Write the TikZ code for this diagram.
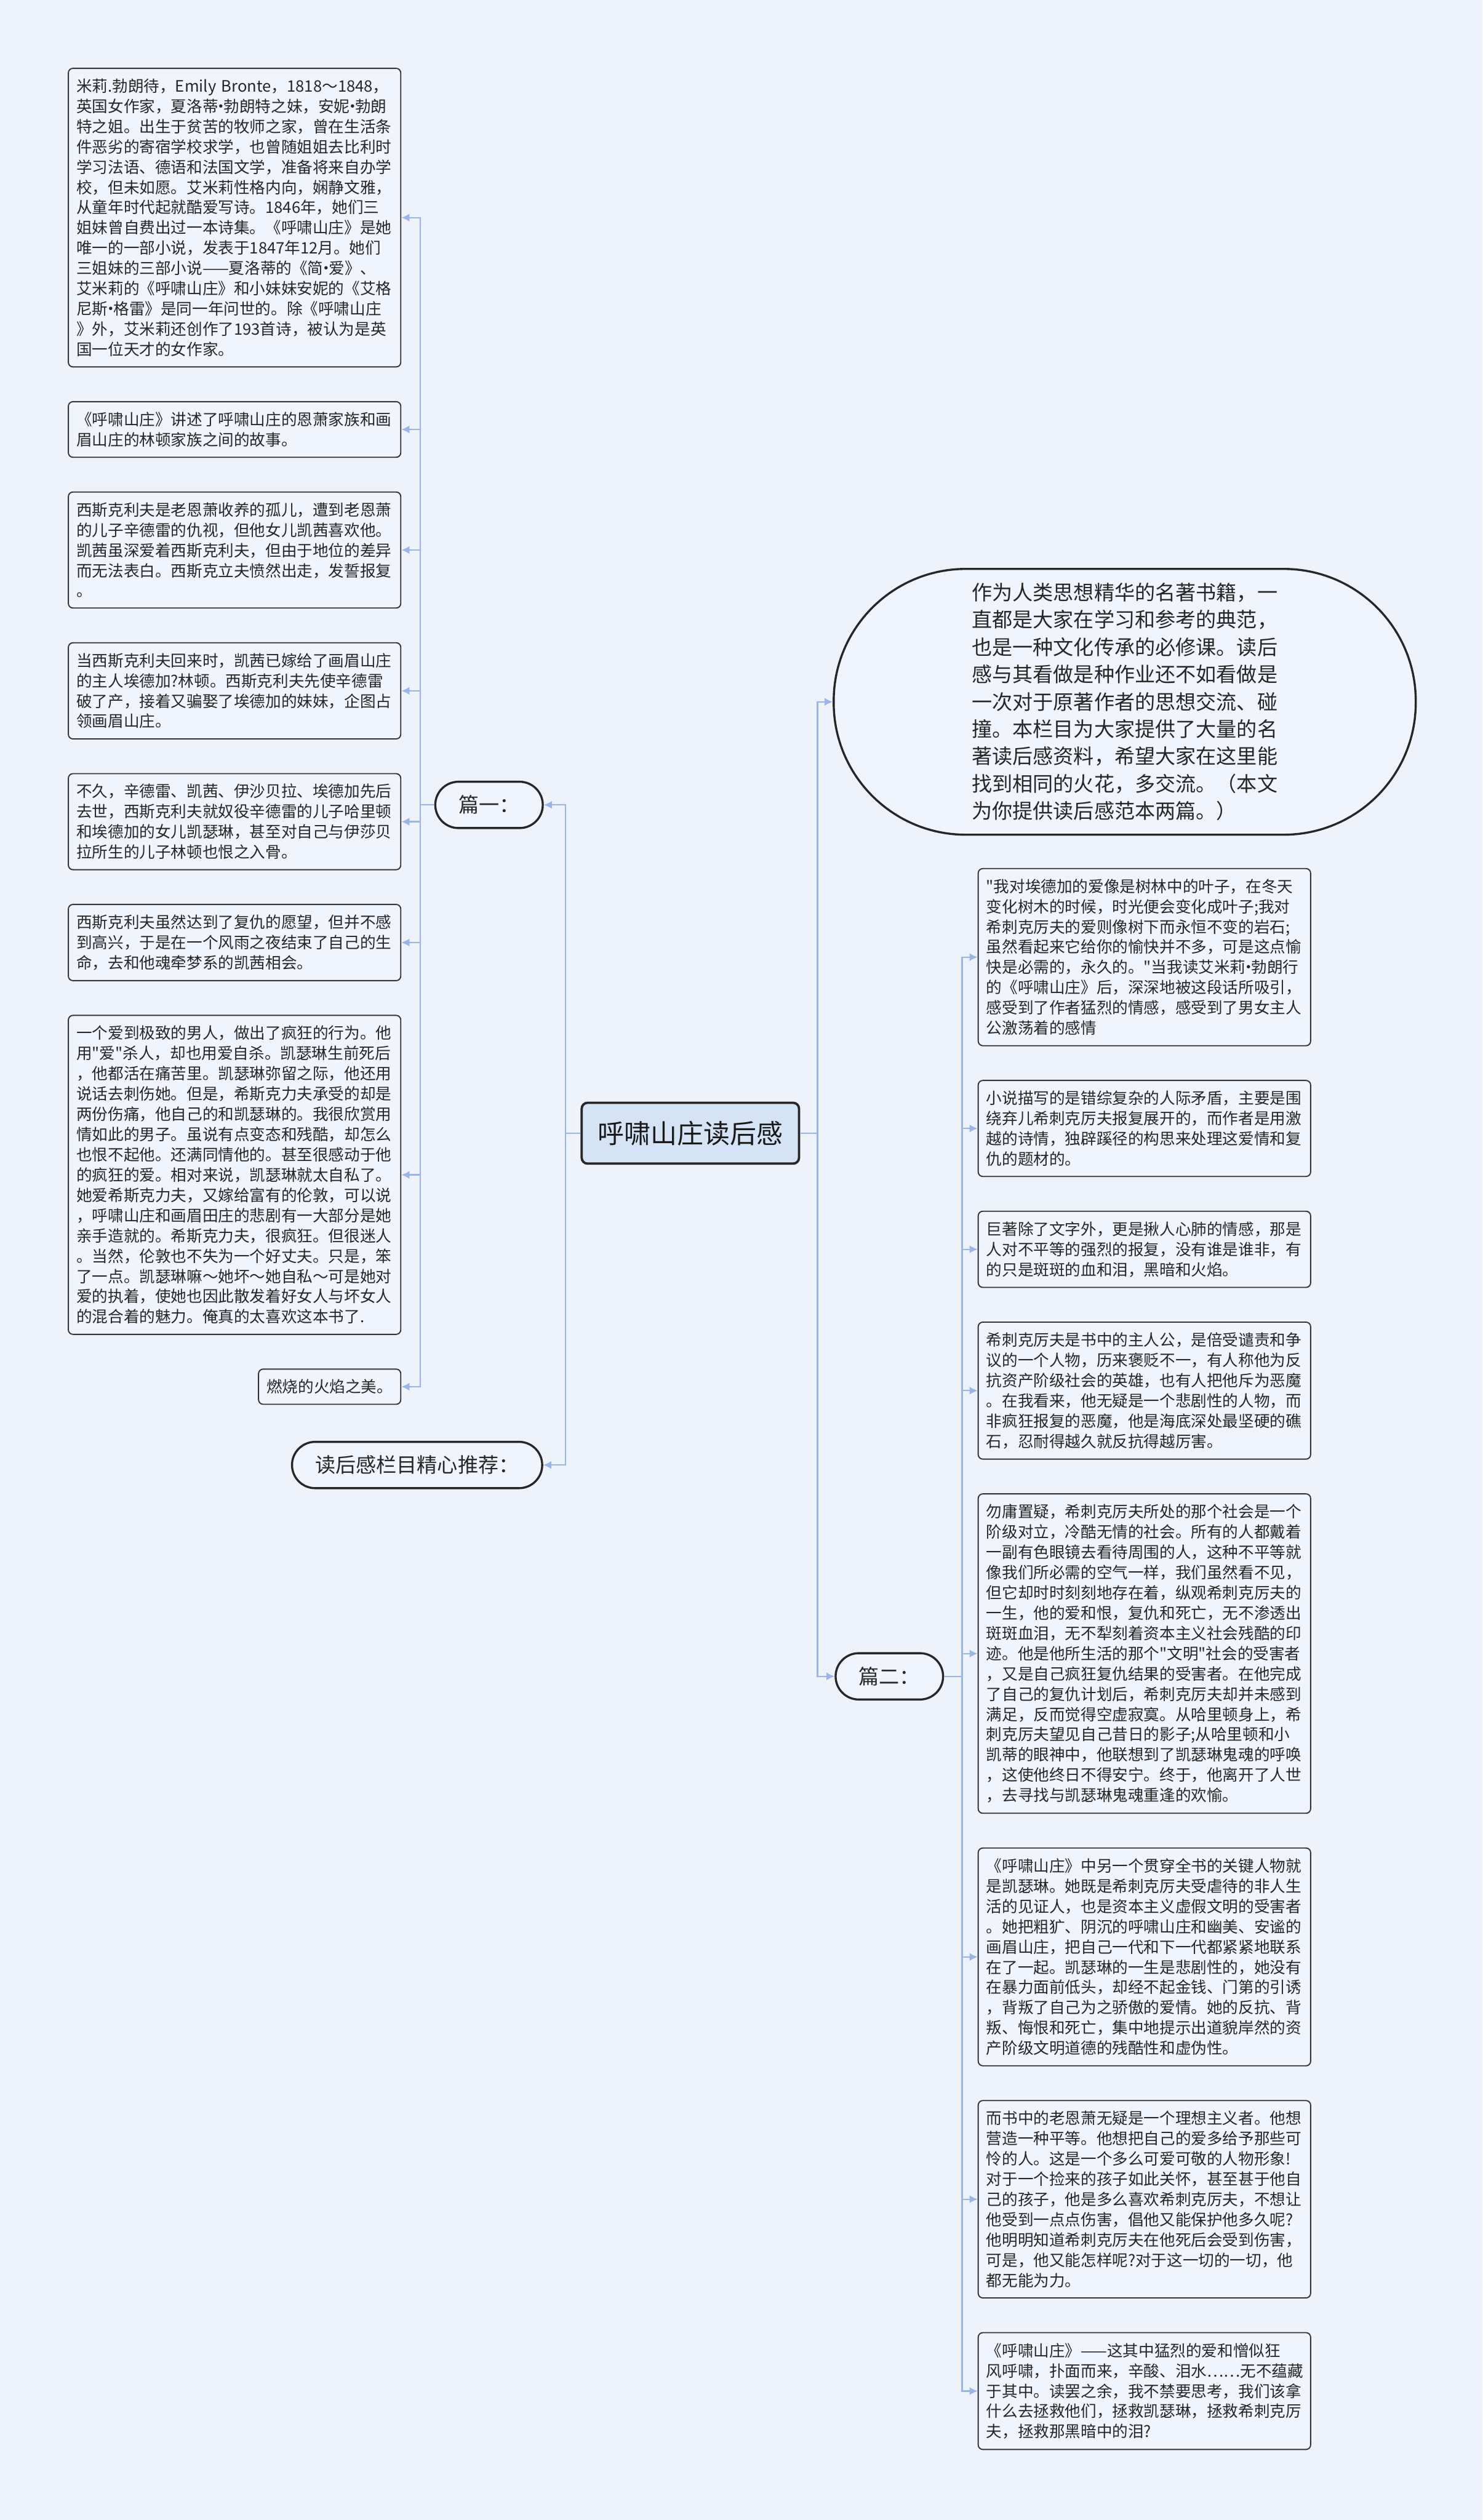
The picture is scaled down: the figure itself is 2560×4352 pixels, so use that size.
\documentclass[tikz,border=0pt]{standalone}
\usepackage{fontspec}
\setmainfont{Noto Sans CJK SC}
\newfontfamily\cjkfont{Noto Sans CJK SC}
\usepackage{xcolor}
\usepackage{tikz}
\usetikzlibrary{positioning, arrows.meta}
\definecolor{bgcol}{HTML}{EEF2FB}
\definecolor{boxfill}{HTML}{F0F4FC}
\definecolor{rootfill}{HTML}{D5E3F7}
\definecolor{linecol}{HTML}{98B6EC}
\definecolor{textcol}{HTML}{262626}
\newlength{\LeafWidth}
\setlength\LeafWidth{136.5pt}
\newcommand{\leaffont}{\cjkfont\fontsize{6.8pt}{8.75pt}\selectfont}
\newcommand{\topicfont}{\cjkfont\fontsize{8.8pt}{10pt}\selectfont}
\newcommand{\introfont}{\cjkfont\fontsize{8.8pt}{11.8pt}\selectfont}
\newcommand{\mainfont}{\cjkfont\fontsize{11.4pt}{13pt}\selectfont}
\newcommand{\mdot}{\makebox[0.35em][c]{·}}

\begin{document}
\begin{tikzpicture}[
    x = 0.25pt, y = -0.25pt,
    note/.style = {rectangle, draw = black!80, fill = boxfill, rounded corners = 2pt, line width = 0.5pt, inner xsep = 3.5pt, inner ysep = 4.45pt, font = \leaffont, text = textcol, align = left},
    leaf/.style = {note, text width = \LeafWidth},
    topic/.style = {rectangle, draw = black!85, fill = boxfill, rounded corners = 10pt, line width = 0.9pt, inner xsep = 10pt, minimum height = 20pt, font = \topicfont, text = textcol},
    root/.style = {rectangle, draw = black!85, fill = rootfill, rounded corners = 2.5pt, line width = 1pt, inner xsep = 7pt, minimum height = 26.25pt, font = \mainfont, text = black!90},
    intro/.style = {rectangle, draw = black!85, fill = boxfill, rounded corners = 57pt, line width = 0.9pt, minimum width = 251.25pt, minimum height = 114.75pt, text width = 132pt, align = left, font = \introfont, text = textcol},
    trunk/.style = {draw = linecol, line width = 0.6pt},
    % connector ending in a small tip
    link/.style = {trunk, -{Latex[length = 3.5pt, width = 3.5pt]}},
    ]

    \fill [bgcol] (0,0) rectangle (2560,4352);
    \useasboundingbox (0,0) rectangle (2560,4352);

    \node [root] (root) at (1192,1957) {呼啸山庄读后感};
    \node [topic, anchor = east] (p1) at (939,1390) {篇一：};
    \node [topic, anchor = east] (rec) at (938,2530) {读后感栏目精心推荐：};
    \node [topic, anchor = west] (p2) at (1441,2895) {篇二：};
    \node [intro] (intro) at (1942,1212) {作为人类思想精华的名著书籍，一\\直都是大家在学习和参考的典范，\\也是一种文化传承的必修课。读后\\感与其看做是种作业还不如看做是\\一次对于原著作者的思想交流、碰\\撞。本栏目为大家提供了大量的名\\著读后感资料，希望大家在这里能\\找到相同的火花，多交流。（本文\\为你提供读后感范本两篇。）};

    % left branch
    \node [leaf, anchor = north west] (a1) at (117,117) {米莉.勃朗待，\mbox{Emily Bronte}，1818～1848，\\英国女作家，夏洛蒂\mdot 勃朗特之妹，安妮\mdot 勃朗\\特之姐。出生于贫苦的牧师之家，曾在生活条\\件恶劣的寄宿学校求学，也曾随姐姐去比利时\\学习法语、德语和法国文学，准备将来自办学\\校，但未如愿。艾米莉性格内向，娴静文雅，\\从童年时代起就酷爱写诗。1846年，她们三\\姐妹曾自费出过一本诗集。《呼啸山庄》是她\\唯一的一部小说，发表于1847年12月。她们\\三姐妹的三部小说——夏洛蒂的《简\mdot 爱》、\\艾米莉的《呼啸山庄》和小妹妹安妮的《艾格\\尼斯\mdot 格雷》是同一年问世的。除《呼啸山庄\\》外，艾米莉还创作了193首诗，被认为是英\\国一位天才的女作家。};
    \node [leaf] (a2) [below = 14.5pt of a1] {《呼啸山庄》讲述了呼啸山庄的恩萧家族和画\\眉山庄的林顿家族之间的故事。};
    \node [leaf] (a3) [below = 14.5pt of a2] {西斯克利夫是老恩萧收养的孤儿，遭到老恩萧\\的儿子辛德雷的仇视，但他女儿凯茜喜欢他。\\凯茜虽深爱着西斯克利夫，但由于地位的差异\\而无法表白。西斯克立夫愤然出走，发誓报复\\。};
    \node [leaf] (a4) [below = 14.5pt of a3] {当西斯克利夫回来时，凯茜已嫁给了画眉山庄\\的主人埃德加?林顿。西斯克利夫先使辛德雷\\破了产，接着又骗娶了埃德加的妹妹，企图占\\领画眉山庄。};
    \node [leaf] (a5) [below = 14.5pt of a4] {不久，辛德雷、凯茜、伊沙贝拉、埃德加先后\\去世，西斯克利夫就奴役辛德雷的儿子哈里顿\\和埃德加的女儿凯瑟琳，甚至对自己与伊莎贝\\拉所生的儿子林顿也恨之入骨。};
    \node [leaf] (a6) [below = 14.5pt of a5] {西斯克利夫虽然达到了复仇的愿望，但并不感\\到高兴，于是在一个风雨之夜结束了自己的生\\命，去和他魂牵梦系的凯茜相会。};
    \node [leaf] (a7) [below = 14.5pt of a6] {一个爱到极致的男人，做出了疯狂的行为。他\\用"爱"杀人，却也用爱自杀。凯瑟琳生前死后\\，他都活在痛苦里。凯瑟琳弥留之际，他还用\\说话去刺伤她。但是，希斯克力夫承受的却是\\两份伤痛，他自己的和凯瑟琳的。我很欣赏用\\情如此的男子。虽说有点变态和残酷，却怎么\\也恨不起他。还满同情他的。甚至很感动于他\\的疯狂的爱。相对来说，凯瑟琳就太自私了。\\她爱希斯克力夫，又嫁给富有的伦敦，可以说\\，呼啸山庄和画眉田庄的悲剧有一大部分是她\\亲手造就的。希斯克力夫，很疯狂。但很迷人\\。当然，伦敦也不失为一个好丈夫。只是，笨\\了一点。凯瑟琳嘛～她坏～她自私～可是她对\\爱的执着，使她也因此散发着好女人与坏女人\\的混合着的魅力。俺真的太喜欢这本书了.};
    \node [note] (a8) [below = 14.5pt of a7.south east, anchor = north east] {燃烧的火焰之美。};

    % right branch
    \node [leaf, anchor = north west] (b1) at (1688,1499) {"我对埃德加的爱像是树林中的叶子，在冬天\\变化树木的时候，时光便会变化成叶子;我对\\希刺克厉夫的爱则像树下而永恒不变的岩石;\\虽然看起来它给你的愉快并不多，可是这点愉\\快是必需的，永久的。"当我读艾米莉\mdot 勃朗行\\的《呼啸山庄》后，深深地被这段话所吸引，\\感受到了作者猛烈的情感，感受到了男女主人\\公激荡着的感情};
    \node [leaf] (b2) [below = 14.5pt of b1] {小说描写的是错综复杂的人际矛盾，主要是围\\绕弃儿希刺克厉夫报复展开的，而作者是用激\\越的诗情，独辟蹊径的构思来处理这爱情和复\\仇的题材的。};
    \node [leaf] (b3) [below = 14.5pt of b2] {巨著除了文字外，更是揪人心肺的情感，那是\\人对不平等的强烈的报复，没有谁是谁非，有\\的只是斑斑的血和泪，黑暗和火焰。};
    \node [leaf] (b4) [below = 14.5pt of b3] {希刺克厉夫是书中的主人公，是倍受谴责和争\\议的一个人物，历来褒贬不一，有人称他为反\\抗资产阶级社会的英雄，也有人把他斥为恶魔\\。在我看来，他无疑是一个悲剧性的人物，而\\非疯狂报复的恶魔，他是海底深处最坚硬的礁\\石，忍耐得越久就反抗得越厉害。};
    \node [leaf] (b5) [below = 14.5pt of b4] {勿庸置疑，希刺克厉夫所处的那个社会是一个\\阶级对立，冷酷无情的社会。所有的人都戴着\\一副有色眼镜去看待周围的人，这种不平等就\\像我们所必需的空气一样，我们虽然看不见，\\但它却时时刻刻地存在着，纵观希刺克厉夫的\\一生，他的爱和恨，复仇和死亡，无不渗透出\\斑斑血泪，无不犁刻着资本主义社会残酷的印\\迹。他是他所生活的那个"文明"社会的受害者\\，又是自己疯狂复仇结果的受害者。在他完成\\了自己的复仇计划后，希刺克厉夫却并未感到\\满足，反而觉得空虚寂寞。从哈里顿身上，希\\刺克厉夫望见自己昔日的影子;从哈里顿和小\\凯蒂的眼神中，他联想到了凯瑟琳鬼魂的呼唤\\，这使他终日不得安宁。终于，他离开了人世\\，去寻找与凯瑟琳鬼魂重逢的欢愉。};
    \node [leaf] (b6) [below = 14.5pt of b5] {《呼啸山庄》中另一个贯穿全书的关键人物就\\是凯瑟琳。她既是希刺克厉夫受虐待的非人生\\活的见证人，也是资本主义虚假文明的受害者\\。她把粗犷、阴沉的呼啸山庄和幽美、安谧的\\画眉山庄，把自己一代和下一代都紧紧地联系\\在了一起。凯瑟琳的一生是悲剧性的，她没有\\在暴力面前低头，却经不起金钱、门第的引诱\\，背叛了自己为之骄傲的爱情。她的反抗、背\\叛、悔恨和死亡，集中地提示出道貌岸然的资\\产阶级文明道德的残酷性和虚伪性。};
    \node [leaf] (b7) [below = 14.5pt of b6] {而书中的老恩萧无疑是一个理想主义者。他想\\营造一种平等。他想把自己的爱多给予那些可\\怜的人。这是一个多么可爱可敬的人物形象!\\对于一个捡来的孩子如此关怀，甚至甚于他自\\己的孩子，他是多么喜欢希刺克厉夫，不想让\\他受到一点点伤害，倡他又能保护他多久呢?\\他明明知道希刺克厉夫在他死后会受到伤害，\\可是，他又能怎样呢?对于这一切的一切，他\\都无能为力。};
    \node [leaf] (b8) [below = 14.5pt of b7] {《呼啸山庄》——这其中猛烈的爱和憎似狂\\风呼啸，扑面而来，辛酸、泪水……无不蕴藏\\于其中。读罢之余，我不禁要思考，我们该拿\\什么去拯救他们，拯救凯瑟琳，拯救希刺克厉\\夫，拯救那黑暗中的泪?};

    % draw paths
    \draw [trunk] (root.west) -- ++(-26,0) coordinate (jl);
    \draw [link] (jl) |- (p1.east);
    \draw [link] (jl) |- (rec.east);
    \draw [trunk] (root.east) -- ++(30,0) coordinate (jr);
    \draw [link] (jr) |- (intro.west);
    \draw [link] (jr) |- (p2.west);

    \draw [trunk] (p1.west) -- ++(-24,0) coordinate (ja);
    \draw [link] (ja) |- (a1.east);
    \draw [link] (ja) |- (a2.east);
    \draw [link] (ja) |- (a3.east);
    \draw [link] (ja) |- (a4.east);
    \draw [link] (ja) |- (a5.east);
    \draw [link] (ja) |- (a6.east);
    \draw [link] (ja) |- (a7.east);
    \draw [link] (ja) |- (a8.east);

    \draw [trunk] (p2.east) -- ++(31,0) coordinate (jb);
    \draw [link] (jb) |- (b1.west);
    \draw [link] (jb) |- (b2.west);
    \draw [link] (jb) |- (b3.west);
    \draw [link] (jb) |- (b4.west);
    \draw [link] (jb) |- (b5.west);
    \draw [link] (jb) |- (b6.west);
    \draw [link] (jb) |- (b7.west);
    \draw [link] (jb) |- (b8.west);
\end{tikzpicture}
\end{document}
